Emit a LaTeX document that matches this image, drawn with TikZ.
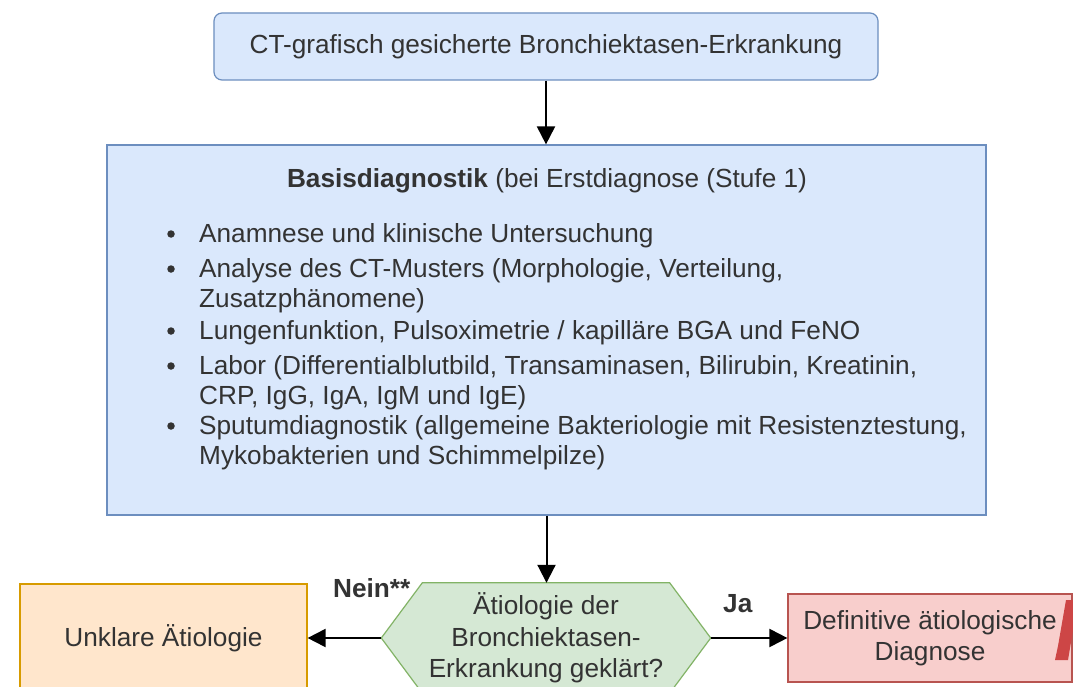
\documentclass[tikz,border=0pt]{standalone}
\usepackage{fontspec}
\setmainfont{Liberation Sans}
\usetikzlibrary{arrows.meta}
\definecolor{bluefill}{HTML}{DAE8FC}
\definecolor{bluedraw}{HTML}{6C8EBF}
\definecolor{greenfill}{HTML}{D5E8D4}
\definecolor{greendraw}{HTML}{82B366}
\definecolor{orangefill}{HTML}{FFE6CC}
\definecolor{orangedraw}{HTML}{D79B00}
\definecolor{redfill}{HTML}{F8CECC}
\definecolor{reddraw}{HTML}{B85450}
\definecolor{redmark}{RGB}{205,70,70}
\definecolor{textgray}{HTML}{333333}
\begin{document}
\begin{tikzpicture}[x=1bp,y=-1bp,
  txt/.style={font=\fontsize{26.3}{31.5}\selectfont, text=textgray, inner sep=0pt},
  bluebox/.style={draw=bluedraw, fill=bluefill, line width=1.2bp, inner sep=0pt},
  greenbox/.style={draw=greendraw, fill=greenfill, line width=1.2bp},
  orangebox/.style={draw=orangedraw, fill=orangefill, line width=1.2bp, inner sep=0pt},
  redbox/.style={draw=reddraw, fill=redfill, line width=1.2bp, inner sep=0pt},
  frame/.style={minimum width=329bp, minimum height=110bp, inner sep=0pt},
  dot/.style={circle, fill=textgray, inner sep=0pt, minimum size=7.5bp},
  arr/.style={line width=2bp, -{Triangle[length=18bp,width=18bp]}},
]
\useasboundingbox (0,0) rectangle (1073,687);
\fill[white] (0,0) rectangle (1073,687);

% top box
\node[bluebox, txt, draw=bluedraw, fill=bluefill, rounded corners=8bp,
      minimum width=664bp, minimum height=67bp] (top) at (546,46.5)
      {CT-grafisch gesicherte Bronchiektasen-Erkrankung};

% basis box
\node[bluebox, minimum width=879bp, minimum height=370bp] (basis) at (546.5,330) {};
\node[txt, anchor=base] (title) at (547,188) {\textbf{Basisdiagnostik} (bei Erstdiagnose (Stufe 1)};

\node[dot] (d1) at (171,234) {};
\node[dot] (d2) at (171,269) {};
\node[dot] (d4) at (171,331) {};
\node[dot] (d5) at (171,366) {};
\node[dot] (d7) at (171,426) {};

\node[txt, anchor=base west] (l1) at (199,242) {Anamnese und klinische Untersuchung};
\node[txt, anchor=base west] (l2) at (199,277) {Analyse des CT-Musters (Morphologie, Verteilung,};
\node[txt, anchor=base west] (l3) at (199,307) {Zusatzphänomene)};
\node[txt, anchor=base west] (l4) at (199,339) {Lungenfunktion, Pulsoximetrie / kapilläre BGA und FeNO};
\node[txt, anchor=base west] (l5) at (199,374) {Labor (Differentialblutbild, Transaminasen, Bilirubin, Kreatinin,};
\node[txt, anchor=base west] (l6) at (199,404) {CRP, IgG, IgA, IgM und IgE)};
\node[txt, anchor=base west] (l7) at (199,434) {Sputumdiagnostik (allgemeine Bakteriologie mit Resistenztestung,};
\node[txt, anchor=base west] (l8) at (199,464) {Mykobakterien und Schimmelpilze)};

% decision hexagon
\node[frame] (hex) at (546,638) {};
\draw[greenbox] (hex.west) -- ([xshift=41bp]hex.north west) -- ([xshift=-41bp]hex.north east)
  -- (hex.east) -- ([xshift=-41bp]hex.south east) -- ([xshift=41bp]hex.south west) -- cycle;
\node[txt, align=center] (hextxt) at (hex.center) {Ätiologie der\\Bronchiektasen-\\Erkrankung geklärt?};

% outcome boxes
\node[orangebox, txt, draw=orangedraw, fill=orangefill, minimum width=287bp, minimum height=108bp] (left) at (163.5,638) {Unklare Ätiologie};
\node[redbox, txt, draw=reddraw, fill=redfill, align=center, minimum width=284bp, minimum height=88bp] (right) at (930,638) {Definitive ätiologische\\Diagnose};
\fill[redmark] (1066,600) -- (1073,600) -- (1073,630) -- (1068,660) -- (1055,660) -- (1058,646) -- cycle;

% connectors
\draw[arr] (top.south) -- (top.south |- basis.north);
\draw[arr] (basis.south) -- (basis.south |- hex.north);
\draw[arr] (hex.west) -- (left.east);
\draw[arr] (hex.east) -- (right.west);

\node[txt, anchor=base west] (nein) at (333,597) {\textbf{Nein**}};
\node[txt, anchor=base west] (ja) at (723,612) {\textbf{Ja}};
\end{tikzpicture}
\end{document}
